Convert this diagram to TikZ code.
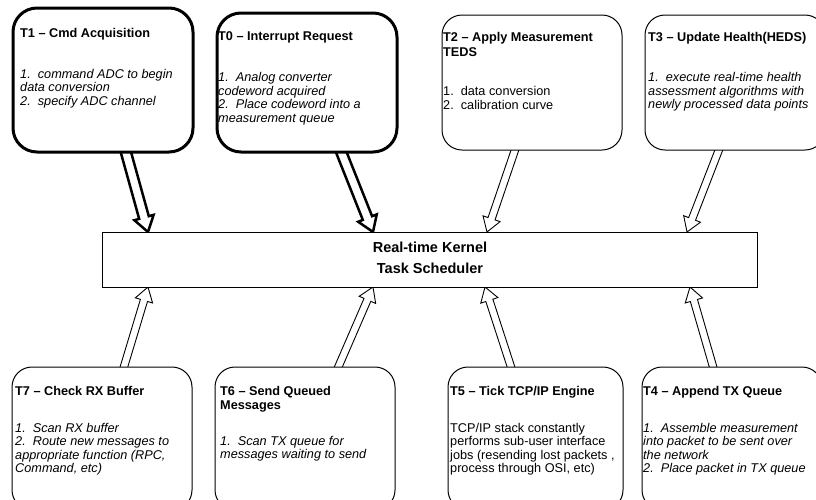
\documentclass[tikz,border=0pt]{standalone}
\usepackage{fontspec}
\setmainfont{Liberation Sans}
\usetikzlibrary{calc}
\pgfdeclarelayer{bg}
\pgfsetlayers{bg,main}
\newcommand{\blockarrow}[6]{%
  \draw[#1] let \p1=(#2), \p2=(#3), \n1={atan2(\y2-\y1,\x2-\x1)}, \n2={veclen(\x2-\x1,\y2-\y1)} in
    {[shift={(\p1)}, rotate=\n1]
     (0,-#4) -- (\n2-#6,-#4) -- (\n2-#6,-#5) -- (\n2,0) -- (\n2-#6,#5) -- (\n2-#6,#4) -- (0,#4) -- cycle};
}
\newcommand{\tlines}[1]{\begin{tabular}[t]{@{}l@{}}#1\end{tabular}}
\tikzset{
  tbox/.style={draw, fill=white, rounded corners=20pt, anchor=north west, inner sep=0pt, outer sep=0pt, minimum width=180pt, line width=1pt},
  tthick/.style={tbox, line width=3pt, rounded corners=24pt},
  ttl/.style={anchor=base west, inner sep=0pt, font=\fontsize{12.7}{14.5}\selectfont\bfseries},
  tbody/.style={anchor=base west, inner sep=0pt, font=\fontsize{12.7}{13.5}\selectfont\itshape},
  tbodyup/.style={tbody, font=\fontsize{12.7}{13.5}\selectfont},
  thinarrow/.style={draw, fill=white, line width=0.9pt, line join=miter},
  thickarrow/.style={draw, fill=white, line width=2.5pt, line join=miter},
}
\begin{document}
\begin{tikzpicture}[x=1pt,y=-1pt]
\useasboundingbox (0,0) rectangle (816,499);
\clip (0,0) rectangle (816,499);

% kernel
\node[draw, fill=white, line width=1pt, anchor=north west, minimum width=655pt, minimum height=55pt, inner sep=0pt, outer sep=0pt] (K) at (102,232) {};
\node[anchor=base, inner sep=0pt, font=\fontsize{14.5}{21}\selectfont\bfseries] (Kt) at (430,252)
  {\begin{tabular}[t]{@{}c@{}}Real-time Kernel\\Task Scheduler\end{tabular}};

% task boxes
\node[tthick, minimum height=144pt] (T1) at (13,8) {};
\node[tthick, minimum height=139pt] (T0) at (217,13) {};
\node[tbox, minimum height=135pt] (T2) at (442,15) {};
\node[tbox, minimum height=135pt] (T3) at (645,15) {};
\node[tbox, minimum height=143pt] (T7) at (12,367) {};
\node[tbox, minimum height=143pt] (T6) at (215,367) {};
\node[tbox, minimum height=143pt, minimum width=175pt] (T5) at (448,367) {};
\node[tbox, minimum height=143pt] (T4) at (642,367) {};

% texts
\node[ttl] (T1t) at (20,37.5) {T1 – Cmd Acquisition};
\node[tbody] (T1b) at (20,78) {\tlines{1.\ \ command ADC to begin\\data conversion\\2.\ \ specify ADC channel}};

\node[ttl] (T0t) at (218,40) {T0 – Interrupt Request};
\node[tbody] (T0b) at (218,81.5) {\tlines{1.\ \ Analog converter\\codeword acquired\\2.\ \ Place codeword into a\\measurement queue}};

\node[ttl] (T2t) at (443,41.5) {\tlines{T2 – Apply Measurement\\TEDS}};
\node[tbodyup] (T2b) at (443,95.5) {\tlines{1.\ \ data conversion\\2.\ \ calibration curve}};

\node[ttl] (T3t) at (648,41.5) {T3 – Update Health(HEDS)};
\node[tbody] (T3b) at (648,81.5) {\tlines{1.\ \ execute real-time health\\assessment algorithms with\\newly processed data points}};

\node[ttl] (T7t) at (15,395) {T7 – Check RX Buffer};
\node[tbody] (T7b) at (15,432) {\tlines{1.\ \ Scan RX buffer\\2.\ \ Route new messages to\\appropriate function (RPC,\\Command, etc)}};

\node[ttl] (T6t) at (220,395) {\tlines{T6 – Send Queued\\Messages}};
\node[tbody] (T6b) at (220,445) {\tlines{1.\ \ Scan TX queue for\\messages waiting to send}};

\node[ttl] (T5t) at (450,395) {T5 – Tick TCP/IP Engine};
\node[tbodyup] (T5b) at (450,432) {\tlines{TCP/IP stack constantly\\performs sub-user interface\\jobs (resending lost packets ,\\process through OSI, etc)}};

\node[ttl] (T4t) at (643,395) {T4 – Append TX Queue};
\node[tbody] (T4b) at (643,432) {\tlines{1.\ \ Assemble measurement\\into packet to be sent over\\the network\\2.\ \ Place packet in TX queue}};

% arrows
\begin{pgfonlayer}{bg}
\blockarrow{thickarrow}{$(T1.south west)+(112,-3)$}{$(K.north west)+(46,0)$}{5}{10}{15}
\blockarrow{thickarrow}{$(T0.south west)+(123,-3)$}{$(K.north west)+(271,0)$}{5}{10}{15}
\blockarrow{thinarrow}{$(T2.south west)+(74,-3)$}{$(K.north west)+(385,0)$}{3.7}{9}{14}
\blockarrow{thinarrow}{$(T3.south west)+(75,-3)$}{$(K.north west)+(585,0)$}{3.7}{9}{14}
\blockarrow{thinarrow}{$(T7.north west)+(111,3)$}{$(K.south west)+(46,0)$}{3.7}{9}{14}
\blockarrow{thinarrow}{$(T6.north west)+(122,3)$}{$(K.south west)+(271,0)$}{3.7}{9}{14}
\blockarrow{thinarrow}{$(T5.north west)+(64,3)$}{$(K.south west)+(383,0)$}{3.7}{9}{14}
\blockarrow{thinarrow}{$(T4.north west)+(72,3)$}{$(K.south west)+(588,0)$}{3.7}{9}{14}
\end{pgfonlayer}
\end{tikzpicture}
\end{document}
